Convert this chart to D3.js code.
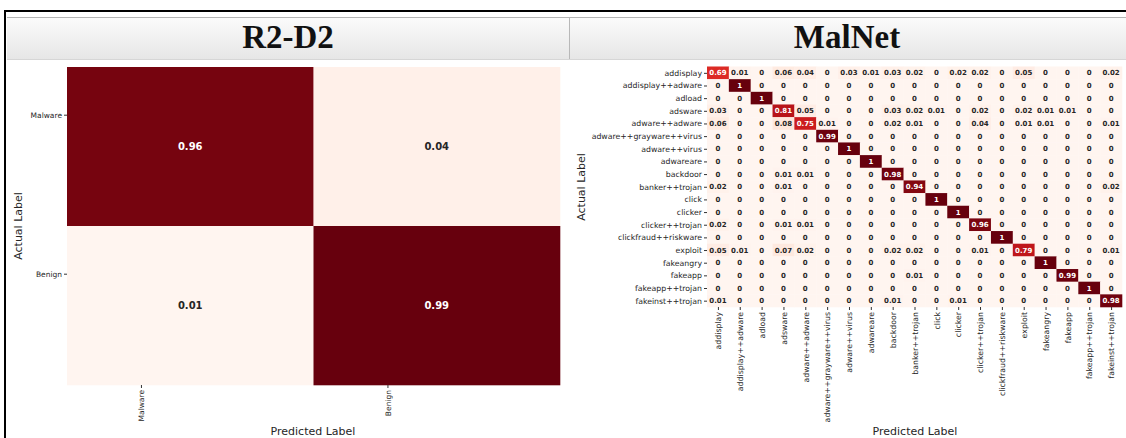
<!DOCTYPE html>
<html>
<head>
<meta charset="utf-8">
<script src="https://cdn.jsdelivr.net/npm/d3@7"></script>
<style>
  html, body { margin: 0; padding: 0; background: #ffffff; }
  svg { display: block; font-family: "DejaVu Sans", sans-serif; }
</style>
</head>
<body>
<svg id="fig" width="1126" height="438"></svg>
<script>
// ---- data ---------------------------------------------------------------
const panelTitles = ["R2-D2", "MalNet"];

const r2d2Labels = ["Malware", "Benign"];
const r2d2Matrix = [
  [0.96, 0.04],
  [0.01, 0.99]
];

const malnetLabels = [
  "addisplay", "addisplay++adware", "adload", "adsware", "adware++adware",
  "adware++grayware++virus", "adware++virus", "adwareare", "backdoor",
  "banker++trojan", "click", "clicker", "clicker++trojan",
  "clickfraud++riskware", "exploit", "fakeangry", "fakeapp",
  "fakeapp++trojan", "fakeinst++trojan"
];
const malnetMatrix = [
  [0.69, 0.01, 0, 0.06, 0.04, 0, 0.03, 0.01, 0.03, 0.02, 0, 0.02, 0.02, 0, 0.05, 0, 0, 0, 0.02],
  [0, 1, 0, 0, 0, 0, 0, 0, 0, 0, 0, 0, 0, 0, 0, 0, 0, 0, 0],
  [0, 0, 1, 0, 0, 0, 0, 0, 0, 0, 0, 0, 0, 0, 0, 0, 0, 0, 0],
  [0.03, 0, 0, 0.81, 0.05, 0, 0, 0, 0.03, 0.02, 0.01, 0, 0.02, 0, 0.02, 0.01, 0.01, 0, 0],
  [0.06, 0, 0, 0.08, 0.75, 0.01, 0, 0, 0.02, 0.01, 0, 0, 0.04, 0, 0.01, 0.01, 0, 0, 0.01],
  [0, 0, 0, 0, 0, 0.99, 0, 0, 0, 0, 0, 0, 0, 0, 0, 0, 0, 0, 0],
  [0, 0, 0, 0, 0, 0, 1, 0, 0, 0, 0, 0, 0, 0, 0, 0, 0, 0, 0],
  [0, 0, 0, 0, 0, 0, 0, 1, 0, 0, 0, 0, 0, 0, 0, 0, 0, 0, 0],
  [0, 0, 0, 0.01, 0.01, 0, 0, 0, 0.98, 0, 0, 0, 0, 0, 0, 0, 0, 0, 0],
  [0.02, 0, 0, 0.01, 0, 0, 0, 0, 0, 0.94, 0, 0, 0, 0, 0, 0, 0, 0, 0.02],
  [0, 0, 0, 0, 0, 0, 0, 0, 0, 0, 1, 0, 0, 0, 0, 0, 0, 0, 0],
  [0, 0, 0, 0, 0, 0, 0, 0, 0, 0, 0, 1, 0, 0, 0, 0, 0, 0, 0],
  [0.02, 0, 0, 0.01, 0.01, 0, 0, 0, 0, 0, 0, 0, 0.96, 0, 0, 0, 0, 0, 0],
  [0, 0, 0, 0, 0, 0, 0, 0, 0, 0, 0, 0, 0, 1, 0, 0, 0, 0, 0],
  [0.05, 0.01, 0, 0.07, 0.02, 0, 0, 0, 0.02, 0.02, 0, 0, 0.01, 0, 0.79, 0, 0, 0, 0.01],
  [0, 0, 0, 0, 0, 0, 0, 0, 0, 0, 0, 0, 0, 0, 0, 1, 0, 0, 0],
  [0, 0, 0, 0, 0, 0, 0, 0, 0, 0.01, 0, 0, 0, 0, 0, 0, 0.99, 0, 0],
  [0, 0, 0, 0, 0, 0, 0, 0, 0, 0, 0, 0, 0, 0, 0, 0, 0, 1, 0],
  [0.01, 0, 0, 0, 0, 0, 0, 0, 0.01, 0, 0, 0.01, 0, 0, 0, 0, 0, 0, 0.98]
];

const axisTitles = { x: "Predicted Label", y: "Actual Label" };

// ---- frame & header -----------------------------------------------------
const svg = d3.select("#fig");
const W = 1126, H = 438;

const defs = svg.append("defs");
const grad = defs.append("linearGradient")
  .attr("id", "headGrad").attr("x1", 0).attr("y1", 0).attr("x2", 0).attr("y2", 1);
grad.append("stop").attr("offset", "0%").attr("stop-color", "#fbfbfb");
grad.append("stop").attr("offset", "100%").attr("stop-color", "#e6e6e6");

const header = svg.append("g").attr("class", "header");
header.append("rect")
  .attr("x", 7).attr("y", 17.5).attr("width", W - 7).attr("height", 42)
  .attr("fill", "url(#headGrad)");
header.append("line")
  .attr("x1", 7).attr("x2", W).attr("y1", 17.5).attr("y2", 17.5)
  .attr("stroke", "#b4b4b4").attr("stroke-width", 1);
header.append("line")
  .attr("x1", 7).attr("x2", W).attr("y1", 59.5).attr("y2", 59.5)
  .attr("stroke", "#d6d6d6").attr("stroke-width", 1);
header.append("line")
  .attr("x1", 569.5).attr("x2", 569.5).attr("y1", 18).attr("y2", 59)
  .attr("stroke", "#b8b8b8").attr("stroke-width", 1);

const titleX = [288, 847];
header.selectAll("text.title")
  .data(panelTitles)
  .join("text")
  .attr("class", "title")
  .attr("x", (d, i) => titleX[i])
  .attr("y", 48)
  .attr("text-anchor", "middle")
  .attr("font-family", "'Liberation Serif', 'Times New Roman', serif")
  .attr("font-weight", "bold")
  .attr("font-size", 33)
  .attr("fill", "#111111")
  .text(d => d);

// outer black frame (top and left)
svg.append("line").attr("x1", 4).attr("x2", W).attr("y1", 11).attr("y2", 11)
  .attr("stroke", "#000").attr("stroke-width", 2);
svg.append("line").attr("x1", 5).attr("x2", 5).attr("y1", 10).attr("y2", H)
  .attr("stroke", "#000").attr("stroke-width", 2);

// ---- heatmap ------------------------------------------------------------
function textColorFor(fill) {
  const c = d3.rgb(fill);
  const lin = v => { v /= 255; return v <= 0.03928 ? v / 12.92 : Math.pow((v + 0.055) / 1.055, 2.4); };
  const lum = 0.2126 * lin(c.r) + 0.7152 * lin(c.g) + 0.0722 * lin(c.b);
  return lum > 0.408 ? "#262626" : "#ffffff";
}

function fmt(v) { return String(v); }

function heatmap(opt) {
  const { labels, matrix, x0, x1, y0, y1 } = opt;
  const g = svg.append("g");
  const flat = matrix.flat();
  const color = d3.scaleSequential(d3.interpolateReds)
    .domain([d3.min(flat), d3.max(flat)]);

  const x = d3.scaleBand().domain(labels).range([x0, x1]);
  const y = d3.scaleBand().domain(labels).range([y0, y1]);

  // tick positions within each band
  const xt = d3.scalePoint().domain(labels).range([x0, x1]).padding(0.5).align(opt.tickAlign);
  const yt = d3.scalePoint().domain(labels).range([y0, y1]).padding(0.5).align(opt.tickAlign);

  const cells = [];
  matrix.forEach((row, i) => row.forEach((v, j) => cells.push({ r: labels[i], c: labels[j], v })));

  g.selectAll("rect.cell")
    .data(cells)
    .join("rect")
    .attr("class", "cell")
    .attr("x", d => x(d.c))
    .attr("y", d => y(d.r))
    .attr("width", x.bandwidth() + 0.3)
    .attr("height", y.bandwidth() + 0.3)
    .attr("fill", d => color(d.v));

  g.selectAll("text.val")
    .data(cells)
    .join("text")
    .attr("class", "val")
    .attr("x", d => x(d.c) + x.bandwidth() / 2)
    .attr("y", d => y(d.r) + y.bandwidth() / 2)
    .attr("dy", "0.36em")
    .attr("text-anchor", "middle")
    .attr("font-weight", "bold")
    .attr("font-size", opt.valueSize)
    .attr("fill", d => textColorFor(color(d.v)))
    .text(d => fmt(d.v));

  const yAxis = g.append("g")
    .attr("transform", `translate(${x0},0)`)
    .call(d3.axisLeft(yt).tickSize(3).tickPadding(2));
  yAxis.select(".domain").remove();
  yAxis.selectAll("line").attr("stroke", "#333");
  yAxis.selectAll("text")
    .attr("font-family", "'DejaVu Sans', sans-serif")
    .attr("font-size", opt.tickSize)
    .attr("fill", "#262626");

  const xAxis = g.append("g")
    .attr("transform", `translate(0,${y1})`)
    .call(d3.axisBottom(xt).tickSize(3).tickPadding(2));
  xAxis.select(".domain").remove();
  xAxis.selectAll("line").attr("stroke", "#333");
  xAxis.selectAll("text")
    .attr("font-family", "'DejaVu Sans', sans-serif")
    .attr("font-size", opt.tickSize)
    .attr("fill", "#262626")
    .attr("text-anchor", "end")
    .attr("dy", "0.35em")
    .attr("transform", "translate(0,5) rotate(-90)")
    .attr("x", 0).attr("y", 0);

  g.append("text")
    .attr("x", opt.xLabelX).attr("y", opt.xLabelY)
    .attr("text-anchor", "middle")
    .attr("font-size", opt.labelSize)
    .attr("fill", "#262626")
    .text(axisTitles.x);

  g.append("text")
    .attr("transform", `translate(${opt.yLabelX},${opt.yLabelY}) rotate(-90)`)
    .attr("text-anchor", "middle")
    .attr("font-size", opt.labelSize)
    .attr("fill", "#262626")
    .text(axisTitles.y);
}

heatmap({
  labels: r2d2Labels, matrix: r2d2Matrix,
  x0: 67, x1: 560, y0: 67, y1: 385,
  tickAlign: 0.3, valueSize: 10, tickSize: 7.5, labelSize: 11,
  xLabelX: 313, xLabelY: 435, yLabelX: 22, yLabelY: 226
});

heatmap({
  labels: malnetLabels, matrix: malnetMatrix,
  x0: 707, x1: 1122, y0: 66.5, y1: 307,
  tickAlign: 0.5, valueSize: 7, tickSize: 7.8, labelSize: 11,
  xLabelX: 915, xLabelY: 435, yLabelX: 585, yLabelY: 187
});
</script>
</body>
</html>
